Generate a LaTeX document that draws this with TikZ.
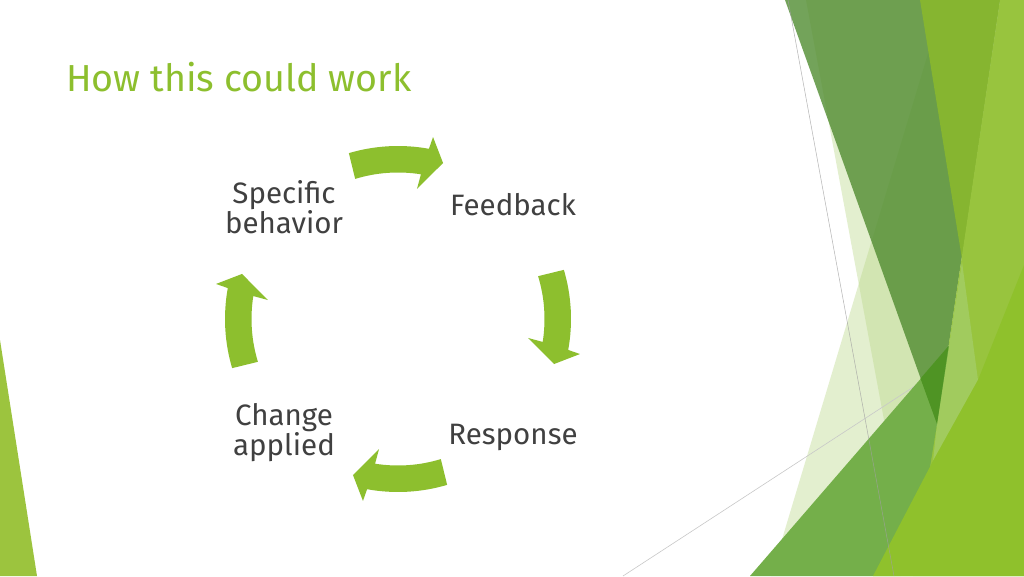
\documentclass[tikz,border=0pt]{standalone}
\usepackage{fontspec}
\setmainfont{Fira Sans}
\definecolor{titlec}{HTML}{8DBF2E}
\definecolor{arrowc}{HTML}{8DBF2E}
\definecolor{labelc}{HTML}{404040}
\definecolor{sliverc}{HTML}{9CC43E}
\definecolor{palec}{RGB}{185,215,135}
\definecolor{darkc}{HTML}{518C31}
\definecolor{bandc}{HTML}{86B530}
\definecolor{rightc}{HTML}{98C43E}
\definecolor{patchc}{HTML}{A1CB5E}
\definecolor{midc}{HTML}{74AF4A}
\definecolor{overc}{HTML}{4F9424}
\definecolor{limec}{HTML}{8FC12C}
\definecolor{linea}{HTML}{A0A0A0}
\definecolor{lineb}{HTML}{C8C8C8}
\begin{document}
\begin{tikzpicture}[x=1pt,y=1pt,
  lbl/.style={font=\fontsize{29.5}{30}\selectfont, text=labelc, align=center, inner sep=0pt},
  ttl/.style={font=\fontsize{37.6}{44}\selectfont, text=titlec, inner sep=0pt, anchor=base west},
  cyclearrow/.style={fill=arrowc}]
\useasboundingbox (0,0) rectangle (1024,576);
\fill[white] (0,0) rectangle (1024,576);
% left sliver
\fill[sliverc] (0,0) -- (37,0) -- (0,236) -- cycle;
% translucent pale facets
\fill[palec, opacity=0.4] (944,576) -- (1024,576) -- (1024,0) -- (771,0) -- cycle;
\fill[palec, opacity=0.4] (806,576) -- (1024,576) -- (1024,0) -- (913,0) -- cycle;
% thin diagonal line (behind the green facets)
\draw[lineb, line width=0.6pt] (623,0) -- (1024,261);
% dark facet
\fill[darkc, opacity=0.8] (785,576) -- (1000,576) -- (937,152) -- cycle;
% band
\fill[bandc] (920,576) -- (1000,576) -- (962,317) -- cycle;
% right light facet
\fill[rightc] (1000,576) -- (1024,576) -- (1024,0) -- (900,0) -- (937,152) -- cycle;
\fill[patchc] (962,314) -- (978,196) -- (933,115) -- (937,152) -- cycle;
% medium facet
\fill[midc] (750,0) -- (949,230) -- (937,152) -- (930,109) -- (900,0) -- cycle;
\fill[overc] (920.5,197.5) -- (948.6,230.1) -- (937,152) -- cycle;
% lime facet
\fill[limec] (873,0) -- (933,115) -- (978,196) -- (1024,311) -- (1024,0) -- cycle;
% thin near-vertical line
\draw[linea, line width=0.5pt, opacity=0.8] (788,576) -- (894,0);
% cycle arrows
\foreach \a in {0,-90,-180,-270}{
  \fill[cyclearrow, shift={(398,257)}, rotate=\a]
    (106.5:173) arc[start angle=106.5, end angle=79.7, radius=173]
    -- (79.1:185.3) -- (73.9:162.4) -- (81.7:131.4) -- (81:146.5)
    arc[start angle=81, end angle=107, radius=146.5] -- cycle;
}
% title
\node[ttl] (title) at (66,484) {How this could work};
% labels
\node[lbl] (spec) at (284,369) {Specific\\behavior};
\node[lbl, anchor=base] (feed) at (513,360) {Feedback};
\node[lbl, anchor=base] (resp) at (513,132) {Response};
\node[lbl] (chg) at (284,143) {Change\\applied};
\end{tikzpicture}
\end{document}
